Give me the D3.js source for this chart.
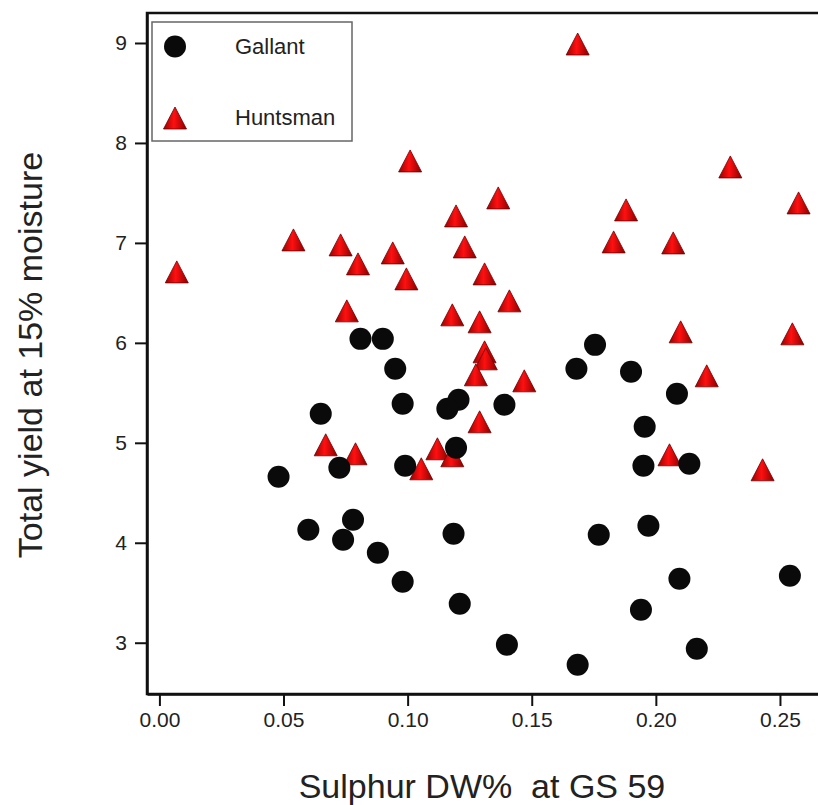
<!DOCTYPE html>
<html>
<head>
<meta charset="utf-8">
<script src="https://cdnjs.cloudflare.com/ajax/libs/d3/7.8.5/d3.min.js"></script>
<style>
	body { margin: 0; background: #fff; }
	text { font-family: "Liberation Sans", Arial, sans-serif; }
</style>
</head>
<body>
<div id="chart"></div>
<script>
// data
var gallantX = [0.081, 0.090, 0.095, 0.098, 0.065, 0.1205, 0.116, 0.139, 0.0725, 0.048,
	0.099, 0.1195, 0.078, 0.060, 0.074, 0.088, 0.1185, 0.098, 0.121, 0.140,
	0.1755, 0.168, 0.190, 0.2085, 0.1955, 0.195, 0.2135, 0.177, 0.197, 0.2095,
	0.254, 0.194, 0.1685, 0.2165];
var gallantY = [6.04, 6.04, 5.74, 5.39, 5.29, 5.43, 5.34, 5.38, 4.75, 4.66,
	4.77, 4.95, 4.23, 4.13, 4.03, 3.90, 4.09, 3.61, 3.39, 2.98,
	5.98, 5.74, 5.71, 5.49, 5.16, 4.77, 4.79, 4.08, 4.17, 3.64,
	3.67, 3.33, 2.78, 2.94];
var huntsmanX = [0.007, 0.054, 0.073, 0.080, 0.0755, 0.094, 0.0995, 0.101, 0.1195, 0.123,
	0.131, 0.118, 0.129, 0.131, 0.1315, 0.1275, 0.129, 0.067, 0.079, 0.112,
	0.118, 0.1055, 0.1685, 0.230, 0.1365, 0.2575, 0.188, 0.183, 0.207, 0.141,
	0.210, 0.255, 0.147, 0.2205, 0.2055, 0.243];
var huntsmanY = [6.71, 7.03, 6.98, 6.79, 6.32, 6.90, 6.64, 7.82, 7.27, 6.96,
	6.69, 6.28, 6.21, 5.91, 5.84, 5.68, 5.21, 4.98, 4.89, 4.94,
	4.87, 4.74, 8.99, 7.76, 7.45, 7.40, 7.33, 7.01, 7.00, 6.42,
	6.11, 6.09, 5.62, 5.67, 4.88, 4.73];
var seriesNames = ['Gallant', 'Huntsman'];
var xTicks = [0, 0.05, 0.10, 0.15, 0.20, 0.25];
var yTicks = [3, 4, 5, 6, 7, 8, 9];

(function () {
	var width = 818;
	var height = 805;
	var left = 147, top = 13, right = 830, bottom = 694;
	var fontSize = 21;

	var svg = d3.select('#chart').append('svg')
		.attr('width', width).attr('height', height);

	var x = d3.scaleLinear().domain([-0.005, 0.27]).range([left, right - 0.4]);
	var y = d3.scaleLinear().domain([2.487, 9.3]).range([bottom, top]);

	// gradient for the triangles
	var grad = svg.append('defs').append('linearGradient')
		.attr('id', 'redGrad').attr('x1', 0).attr('x2', 1).attr('y1', 0).attr('y2', 0);
	grad.append('stop').attr('offset', '0%').attr('stop-color', '#9a0000');
	grad.append('stop').attr('offset', '45%').attr('stop-color', '#ff1010');
	grad.append('stop').attr('offset', '100%').attr('stop-color', '#8a0000');

	// triangle centred on its bounding box, 23 wide and 22 tall
	var triType = {
		draw: function (ctx, size) {
			var w = 11.5, h = 11;
			ctx.moveTo(0, -h);
			ctx.lineTo(w, h);
			ctx.lineTo(-w, h);
			ctx.closePath();
		}
	};
	var triangle = d3.symbol().type(triType);

	// frame
	svg.append('rect')
		.attr('x', left).attr('y', top)
		.attr('width', right - left).attr('height', bottom - top)
		.attr('fill', 'none').attr('stroke', '#111').attr('stroke-width', 2.5);

	var xAxis = svg.append('g')
		.attr('transform', 'translate(0,' + bottom + ')')
		.call(d3.axisBottom(x).tickValues(xTicks).tickFormat(d3.format('.2f'))
			.tickSizeInner(12).tickSizeOuter(0).tickPadding(6));
	var yAxis = svg.append('g')
		.attr('transform', 'translate(' + left + ',0)')
		.call(d3.axisLeft(y).tickValues(yTicks).tickFormat(d3.format('d'))
			.tickSizeInner(12).tickSizeOuter(0).tickPadding(8));

	[xAxis, yAxis].forEach(function (g) {
		g.select('.domain').attr('stroke', '#111').attr('stroke-width', 2.5);
		g.selectAll('.tick line').attr('stroke', '#111').attr('stroke-width', 2);
		g.selectAll('.tick text').attr('fill', '#222')
			.style('font-family', '"Liberation Sans", Arial, sans-serif')
			.style('font-size', fontSize + 'px');
	});

	// points
	var hunts = huntsmanX.map(function (v, i) { return [v, huntsmanY[i]]; });
	var galls = gallantX.map(function (v, i) { return [v, gallantY[i]]; });

	svg.selectAll('.hunt').data(hunts).enter().append('path')
		.attr('class', 'hunt')
		.attr('d', triangle)
		.attr('transform', d => 'translate(' + x(d[0]) + ',' + y(d[1]) + ')')
		.attr('fill', 'url(#redGrad)')
		.attr('stroke', '#6e0000').attr('stroke-width', 0.8);

	svg.selectAll('.gall').data(galls).enter().append('circle')
		.attr('class', 'gall')
		.attr('cx', d => x(d[0])).attr('cy', d => y(d[1]))
		.attr('r', 11)
		.attr('fill', '#0a0a0a');

	// legend
	var legend = svg.append('g');
	legend.append('rect')
		.attr('x', 152).attr('y', 22).attr('width', 200).attr('height', 119)
		.attr('fill', '#fff').attr('stroke', '#666').attr('stroke-width', 1.5);
	legend.append('circle').attr('cx', 175).attr('cy', 46.5).attr('r', 11).attr('fill', '#0a0a0a');
	legend.append('path').attr('d', triangle)
		.attr('transform', 'translate(175,118)')
		.attr('fill', 'url(#redGrad)').attr('stroke', '#6e0000').attr('stroke-width', 0.8);
	legend.selectAll('.lab').data(seriesNames).enter().append('text')
		.attr('x', 235).attr('y', (d, i) => i ? 125 : 54)
		.attr('font-size', 22).attr('fill', '#222')
		.text(d => d);

	// axis titles
	svg.append('text')
		.attr('x', 482).attr('y', 798)
		.attr('text-anchor', 'middle').attr('font-size', 34).attr('fill', '#222')
		.style('white-space', 'pre')
		.text('Sulphur DW%  at GS 59');
	svg.append('text')
		.attr('transform', 'translate(42,355)rotate(-90)')
		.attr('text-anchor', 'middle').attr('font-size', 34).attr('fill', '#222')
		.text('Total yield at 15% moisture');
})();
</script>
</body>
</html>
